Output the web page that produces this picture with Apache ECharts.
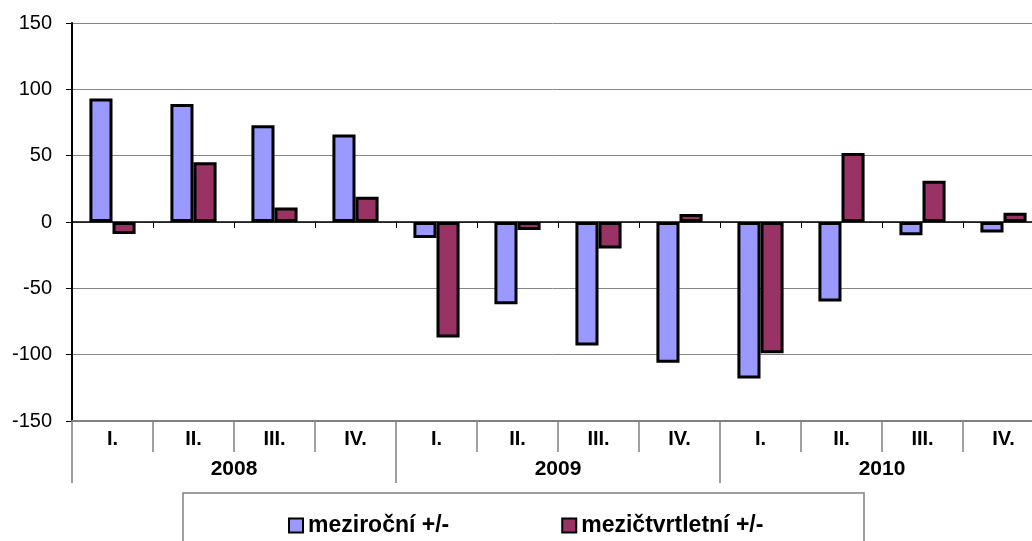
<!DOCTYPE html>
<html>
<head>
<meta charset="utf-8">
<script src="https://cdn.jsdelivr.net/npm/echarts@6/dist/echarts.min.js"></script>
<style>
html,body{margin:0;padding:0;background:#fff;}
#chart{width:1032px;height:541px;}
</style>
</head>
<body>
<div id="chart"></div>
<script>
var quarters = ['I.','II.','III.','IV.','I.','II.','III.','IV.','I.','II.','III.','IV.'];
var years = ['2008','2009','2010'];
var yTicks = {min: -150, max: 150, interval: 50};
var seriesNames = ['meziroční +/-', 'mezičtvrtletní +/-'];
var mezirocni = [93, 89, 73, 66, -12, -62, -93, -106, -118, -60, -10, -8];
var mezictvrtletni = [-9, 45, 11, 19, -87, -6, -20, 6, -99, 52, 31, 7];

var FONT = '"Liberation Sans", Arial, sans-serif';
var chart = echarts.init(document.getElementById('chart'));
chart.setOption({
  animation: false,
  backgroundColor: '#ffffff',
  grid: {left: 72, top: 23, width: 972, height: 398, containLabel: false, outerBoundsMode: 'none'},
  xAxis: [
    {
      type: 'category', data: quarters, gridIndex: 0, position: 'bottom',
      axisLine: {onZero: true, lineStyle: {color: '#000', width: 1.5}},
      axisTick: {show: true, length: 6, interval: 0, lineStyle: {color: '#000', width: 1}},
      axisLabel: {show: false}, splitLine: {show: false}, z: 5
    },
    {
      type: 'category', data: quarters, gridIndex: 0, position: 'bottom',
      axisLine: {onZero: false, lineStyle: {color: '#808080', width: 2}},
      axisTick: {show: true, length: 31, interval: 0, lineStyle: {color: '#808080', width: 1.5}},
      axisLabel: {interval: 0, margin: 8, fontFamily: FONT, fontSize: 20, fontWeight: 'bold', color: '#000'},
      splitLine: {show: false}
    },
    {
      type: 'category', data: years, gridIndex: 0, position: 'bottom', offset: 31,
      axisLine: {show: false, onZero: false},
      axisTick: {show: true, length: 31, interval: 0, lineStyle: {color: '#808080', width: 1.5}},
      axisLabel: {interval: 0, margin: 7, fontFamily: FONT, fontSize: 21, fontWeight: 'bold', color: '#000'},
      splitLine: {show: false}
    }
  ],
  yAxis: {
    type: 'value', min: yTicks.min, max: yTicks.max, interval: yTicks.interval,
    axisLine: {show: true, lineStyle: {color: '#000', width: 2}},
    axisTick: {show: true, length: 6, lineStyle: {color: '#000', width: 1}},
    axisLabel: {margin: 20, fontFamily: FONT, fontSize: 20, color: '#000'},
    splitLine: {show: true, lineStyle: {color: '#858585', width: 1}}
  },
  legend: {
    show: true, left: 288, top: 514, padding: 0, icon: 'rect', itemWidth: 14, itemHeight: 14, itemGap: 112,
    itemStyle: {borderColor: '#000', borderWidth: 2},
    textStyle: {fontFamily: FONT, fontSize: 23, fontWeight: 'bold', color: '#000'},
    data: seriesNames
  },
  graphic: [{
    type: 'rect', shape: {x: 183, y: 493, width: 681, height: 70},
    style: {fill: 'none', stroke: '#808080', lineWidth: 1.5}, z: 0
  }],
  series: [
    {
      name: seriesNames[0], type: 'bar', data: mezirocni, xAxisIndex: 0,
      barGap: '0%', barCategoryGap: '43%',
      itemStyle: {color: '#9999ff', borderColor: '#000', borderWidth: 3}
    },
    {
      name: seriesNames[1], type: 'bar', data: mezictvrtletni, xAxisIndex: 0,
      barGap: '0%', barCategoryGap: '43%',
      itemStyle: {color: '#993366', borderColor: '#000', borderWidth: 3}
    }
  ]
});
</script>
</body>
</html>
